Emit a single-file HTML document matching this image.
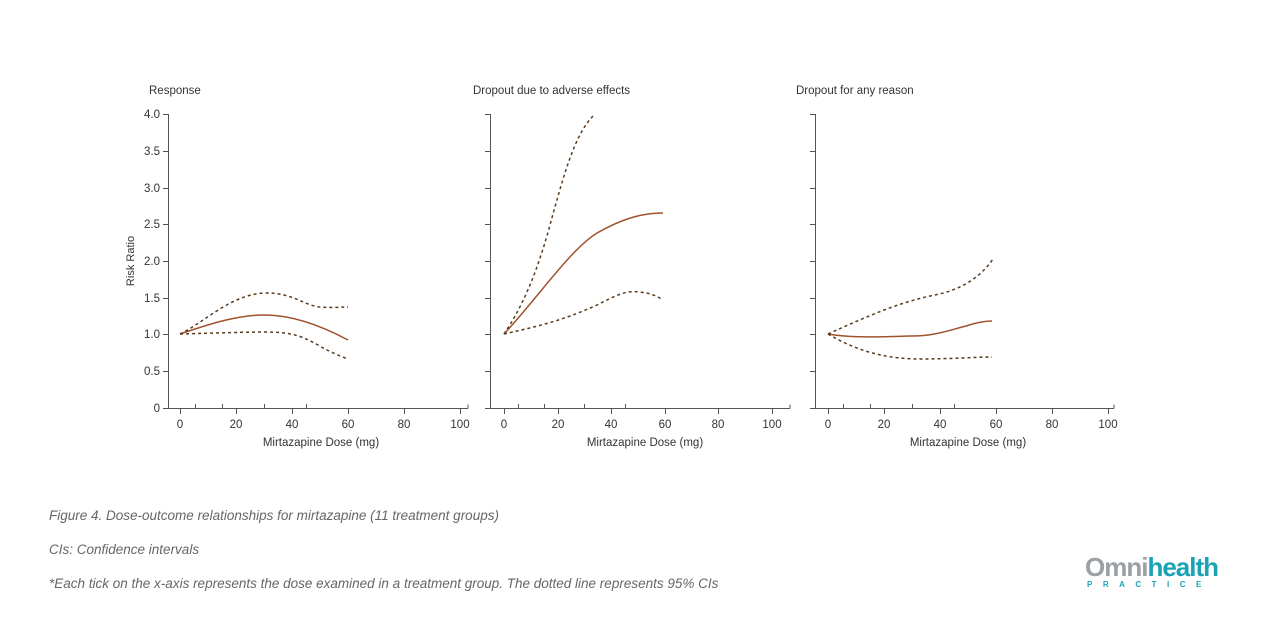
<!DOCTYPE html>
<html><head><meta charset="utf-8"><style>
body{margin:0;background:#fff;width:1266px;height:631px;overflow:hidden;font-family:"Liberation Sans",sans-serif}
</style></head><body>
<svg width="1266" height="631" xmlns="http://www.w3.org/2000/svg" font-family="Liberation Sans, sans-serif">
<g fill="#333" font-size="11.5">
<text x="149" y="94">Response</text>
<text x="473" y="94">Dropout due to adverse effects</text>
<text x="796" y="94">Dropout for any reason</text>
</g>
<g stroke="#555" stroke-width="1" fill="none">
<path d="M168.5 114V408.5H468M468 408.5v-4"/>
<path d="M168 114.5h-5M168 151.5h-5M168 188.5h-5M168 224.5h-5M168 261.5h-5M168 298.5h-5M168 334.5h-5M168 371.5h-5M168 408.5h-5"/>
<path d="M180.5 408v6M236.5 408v6M292.5 408v6M348.5 408v6M404.5 408v6M460.5 408v6M195.5 408v-4M222.5 408v-4M264.5 408v-4M306.5 408v-4"/>
<path d="M490.5 114V408.5H790M790 408.5v-4"/>
<path d="M490 114.5h-5M490 151.5h-5M490 188.5h-5M490 224.5h-5M490 261.5h-5M490 298.5h-5M490 334.5h-5M490 371.5h-5M490 408.5h-5"/>
<path d="M504.5 408v6M558.5 408v6M611.5 408v6M665.5 408v6M718.5 408v6M772.5 408v6M518.5 408v-4M544.5 408v-4M584.5 408v-4M625.5 408v-4"/>
<path d="M815.5 114V408.5H1114M1114 408.5v-4"/>
<path d="M815 114.5h-5M815 151.5h-5M815 188.5h-5M815 224.5h-5M815 261.5h-5M815 298.5h-5M815 334.5h-5M815 371.5h-5M815 408.5h-5"/>
<path d="M828.5 408v6M884.5 408v6M940.5 408v6M996.5 408v6M1052.5 408v6M1108.5 408v6M843.5 408v-4M870.5 408v-4M912.5 408v-4M954.5 408v-4"/>
</g>
<g fill="#333" font-size="11.5" text-anchor="end">
<text x="160" y="118">4.0</text><text x="160" y="155">3.5</text><text x="160" y="192">3.0</text><text x="160" y="228">2.5</text><text x="160" y="265">2.0</text><text x="160" y="302">1.5</text><text x="160" y="338">1.0</text><text x="160" y="375">0.5</text><text x="160" y="412">0</text>
</g>
<text transform="translate(134,261) rotate(-90)" fill="#333" font-size="11" text-anchor="middle">Risk Ratio</text>
<g fill="#333" font-size="11.5" text-anchor="middle">
<text x="180" y="428">0</text><text x="236" y="428">20</text><text x="292" y="428">40</text><text x="348" y="428">60</text><text x="404" y="428">80</text><text x="460" y="428">100</text>
<text x="321" y="446">Mirtazapine Dose (mg)</text>
<text x="504" y="428">0</text><text x="558" y="428">20</text><text x="611" y="428">40</text><text x="665" y="428">60</text><text x="718" y="428">80</text><text x="772" y="428">100</text>
<text x="645" y="446">Mirtazapine Dose (mg)</text>
<text x="828" y="428">0</text><text x="884" y="428">20</text><text x="940" y="428">40</text><text x="996" y="428">60</text><text x="1052" y="428">80</text><text x="1108" y="428">100</text>
<text x="968" y="446">Mirtazapine Dose (mg)</text>
</g>
<g fill="none" stroke-width="1.5">
<path d="M180 334 C215 322 240 315 264 315 C292 315 320 325 348 340" stroke="#a0522d"/>
<path d="M180 334 C205 322 230 295 264 293 C292 292 305 306 320 307 C335 308 340 307 348 307" stroke="#5a3a1a" stroke-dasharray="3,3"/>
<path d="M180 334 C215 333 250 332 264 332 C290 332 300 335 318 345 C330 352 340 356 348 359" stroke="#5a3a1a" stroke-dasharray="3,3"/>
<path d="M504 334 C540 295 570 250 597 233 C620 220 640 213 663 213" stroke="#a0522d"/>
<path d="M504 334 C520 310 535 280 550 225 C565 170 575 135 593 116" stroke="#5a3a1a" stroke-dasharray="3,3"/>
<path d="M504 334 C530 328 560 322 597 305 C615 296 625 290 640 292 C650 293 657 296 663 300" stroke="#5a3a1a" stroke-dasharray="3,3"/>
<path d="M828 334 C850 338 880 337 912 336 C935 336 950 330 966 326 C975 323 985 321 992 321" stroke="#a0522d"/>
<path d="M828 334 C870 315 900 302 935 295 C960 290 980 278 993 259" stroke="#5a3a1a" stroke-dasharray="3,3"/>
<path d="M828 334 C860 353 890 359 920 359 C950 359 975 357 992 357" stroke="#5a3a1a" stroke-dasharray="3,3"/>
</g>
<g fill="#666" font-size="13.5" font-style="italic">
<text x="49" y="520">Figure 4. Dose-outcome relationships for mirtazapine (11 treatment groups)</text>
<text x="49" y="554">CIs: Confidence intervals</text>
<text x="49" y="588">*Each tick on the x-axis represents the dose examined in a treatment group. The dotted line represents 95% CIs</text>
</g>
<g>
<text x="1085" y="576" font-size="26" font-weight="bold" letter-spacing="-1"><tspan fill="#9aa0a6">Omni</tspan><tspan fill="#1aa3b5">health</tspan></text>
<text x="1087" y="587" font-size="8" font-weight="bold" fill="#1aa3b5" letter-spacing="10.5">PRACTICE</text>
</g>
</svg>
</body></html>
